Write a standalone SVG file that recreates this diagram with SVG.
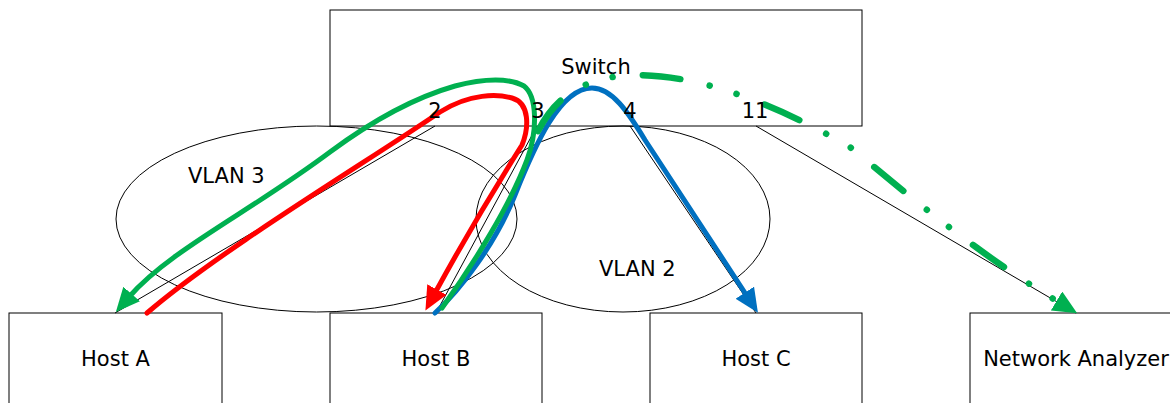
<svg xmlns="http://www.w3.org/2000/svg" width="1170" height="403" viewBox="0 0 1170 403">
<style>
.box{fill:#fff;stroke:#000;stroke-width:1}
.vlan{fill:none;stroke:#000;stroke-width:1}
.link{fill:none;stroke:#000;stroke-width:1}
.lbl{font-family:"DejaVu Sans",Verdana,sans-serif;font-size:21px;fill:#000}
.mid{text-anchor:middle}
.flow{fill:none;stroke-width:5;stroke-linecap:round;stroke-linejoin:round}
</style>
<defs>
<marker id="ag" viewBox="0 0 24 22" refX="4" refY="11" markerWidth="24" markerHeight="22" markerUnits="userSpaceOnUse" orient="auto"><path d="M0,0 L24,11 L0,22 z" fill="#00B050" stroke="none"/></marker>
<marker id="ar" viewBox="0 0 24 22" refX="4" refY="11" markerWidth="24" markerHeight="22" markerUnits="userSpaceOnUse" orient="auto"><path d="M0,0 L24,11 L0,22 z" fill="#FF0000" stroke="none"/></marker>
<marker id="ab" viewBox="0 0 24 22" refX="4" refY="11" markerWidth="24" markerHeight="22" markerUnits="userSpaceOnUse" orient="auto"><path d="M0,0 L24,11 L0,22 z" fill="#0070C0" stroke="none"/></marker>
</defs>

<g id="switch"><rect class="box" x="330" y="10" width="532" height="116"/><text class="lbl mid" x="596" y="74">Switch</text></g>
<g id="hostA"><rect class="box" x="9" y="313" width="213" height="120"/><text class="lbl mid" x="115.5" y="366">Host A</text></g>
<g id="hostB"><rect class="box" x="330" y="313" width="212" height="120"/><text class="lbl mid" x="436" y="366">Host B</text></g>
<g id="hostC"><rect class="box" x="650" y="313" width="212" height="120"/><text class="lbl mid" x="756" y="366">Host C</text></g>
<g id="analyzer"><rect class="box" x="970" y="313" width="213" height="120"/><text class="lbl mid" x="1076" y="366">Network Analyzer</text></g>

<g id="vlan3"><ellipse class="vlan" cx="316.5" cy="219" rx="200.5" ry="93"/><text class="lbl" x="188" y="183">VLAN 3</text></g>
<g id="vlan2"><ellipse class="vlan" cx="623" cy="219" rx="147" ry="93"/><text class="lbl" x="599" y="276">VLAN 2</text></g>

<g id="connectors">
<line class="link" x1="435" y1="126" x2="115" y2="313"/>
<line class="link" x1="537" y1="126" x2="436" y2="313"/>
<line class="link" x1="630" y1="126" x2="756" y2="313"/>
<line class="link" x1="756" y1="126" x2="1076" y2="313"/>
</g>

<g id="flows">
<path class="flow" stroke="#0070C0" marker-end="url(#ab)" d="M435,313 C460,290 495,245 515,195 C535,145 560,88 592,88 C612,88 628,112 645,140 L747,296"/>
<path class="flow" stroke="#00B050" marker-end="url(#ag)" d="M442,308 C475,262 510,205 527,160 C538,130 537,96 524,86 C510,78 485,78 455,86 C420,96 380,115 330,152 C250,212 170,250 129,297"/>
<path class="flow" stroke="#FF0000" marker-end="url(#ar)" d="M147,313 C220,250 370,160 440,112 C470,93 498,94 512,98 C530,103 529,128 522,145 C505,172 465,238 435,293"/>
<path fill="none" stroke="#00B050" stroke-width="6.5" stroke-linecap="round" stroke-dasharray="38 30 0.1 28 0.1 30" marker-end="url(#ag)" d="M538,131 C550,108 570,82 620,76 C680,70 760,95 850,147 C920,205 980,255 1060,303"/>
</g>

<g id="ports">
<text class="lbl mid" x="435" y="118">2</text>
<text class="lbl mid" x="538" y="118">3</text>
<text class="lbl mid" x="630" y="118">4</text>
<text class="lbl mid" x="755" y="118">11</text>
</g>
</svg>
